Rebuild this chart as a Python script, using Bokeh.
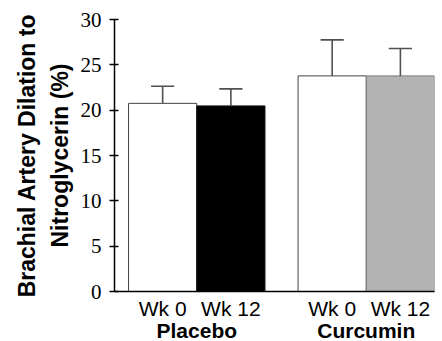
from bokeh.plotting import figure
from bokeh.models import Range1d, FixedTicker, LinearAxis, Title, ColumnDataSource
from bokeh.embed import file_html
from bokeh.resources import INLINE

groups = ["Placebo", "Curcumin"]
weeks = ["Wk 0", "Wk 12"]
means = [20.75, 20.47, 23.78, 23.78]
errors = [1.89, 1.88, 3.97, 3.02]
fills = ["white", "black", "white", "#b3b3b3"]
outlines = ["#444444", "#111111", "#444444", "#7a7a7a"]
y_ticks = [0, 5, 10, 15, 20, 25, 30]

group_gap = 0.485
xs = []
labels = []
for gi, g in enumerate(groups):
    for wi, w in enumerate(weeks):
        xs.append(gi * (len(weeks) + group_gap) + wi)
        labels.append(w)
group_centers = [gi * (len(weeks) + group_gap) + (len(weeks) - 1) / 2 for gi in range(len(groups))]

cap_half = 0.17
src = ColumnDataSource(dict(
    x=xs, top=means, fill=fills, line=outlines,
    upper=[m + e for m, e in zip(means, errors)],
    cl=[x - cap_half for x in xs], cr=[x + cap_half for x in xs],
))

p = figure(frame_width=320, frame_height=272, output_backend="svg", toolbar_location=None,
           x_range=Range1d(-0.706, 3.985), y_range=Range1d(0, 30),
           min_border_left=114, min_border_right=8, min_border_top=19, min_border_bottom=0,
           x_axis_type=None)
p.outline_line_color = None
p.xgrid.visible = False
p.ygrid.visible = False

p.vbar(x="x", top="top", width=1.0, bottom=0, fill_color="fill", line_color="line", line_width=1, source=src)
p.segment(x0="x", y0="top", x1="x", y1="upper", line_color="#505050", line_width=1.6, source=src)
p.segment(x0="cl", y0="upper", x1="cr", y1="upper", line_color="#505050", line_width=1.6, source=src)

# y axis
ya = p.yaxis[0]
ya.ticker = FixedTicker(ticks=y_ticks)
ya.axis_line_color = "black"
ya.axis_line_width = 1.5
ya.major_tick_line_width = 1.5
ya.major_tick_in = 4
ya.major_tick_out = 5
ya.minor_tick_line_color = None
ya.major_label_text_font = "Liberation Serif"
ya.major_label_text_font_size = "21px"
ya.major_label_text_color = "black"
ya.major_label_standoff = 8

# x axis with week labels
xa = LinearAxis(ticker=FixedTicker(ticks=xs),
                major_label_overrides={x: l for x, l in zip(xs, labels)})
xa.axis_line_color = "black"
xa.axis_line_width = 1.5
xa.major_tick_line_color = None
xa.major_tick_in = 0
xa.major_tick_out = 0
xa.minor_tick_line_color = None
xa.major_label_text_font = "Liberation Sans"
xa.major_label_text_font_size = "21px"
xa.major_label_text_color = "black"
xa.major_label_standoff = 5
p.add_layout(xa, "below")

ga = LinearAxis(ticker=FixedTicker(ticks=group_centers),
                major_label_overrides={x: g for x, g in zip(group_centers, groups)})
ga.axis_line_color = None
ga.major_tick_line_color = None
ga.major_tick_in = 0
ga.major_tick_out = 0
ga.minor_tick_line_color = None
ga.major_label_text_font = "Liberation Sans"
ga.major_label_text_font_style = "bold"
ga.major_label_text_font_size = "21px"
ga.major_label_text_color = "black"
ga.major_label_standoff = -4
p.add_layout(ga, "below")

t2 = Title(text="Nitroglycerin (%)", align="center", text_font="Liberation Sans",
           text_font_style="bold", text_font_size="23px", text_color="black",
           standoff=10, offset=0)
t1 = Title(text="Brachial Artery Dilation to", align="center", text_font="Liberation Sans",
           text_font_style="bold", text_font_size="23px", text_color="black",
           standoff=0, offset=0)
p.add_layout(t2, "left")
p.add_layout(t1, "left")

open("out.html", "w").write(file_html(p, INLINE))
